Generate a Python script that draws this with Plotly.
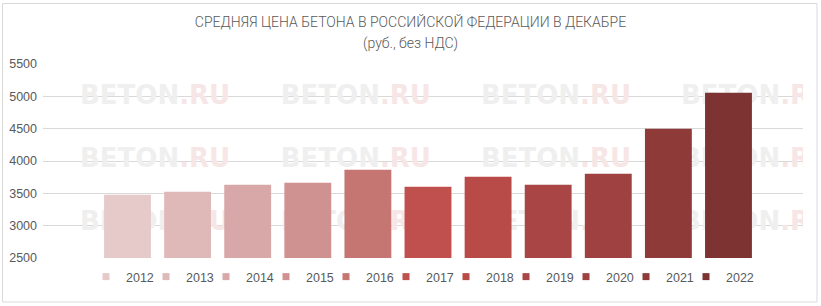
import plotly.graph_objects as go

years = [2012, 2013, 2014, 2015, 2016, 2017, 2018, 2019, 2020, 2021, 2022]
prices = [3480, 3525, 3633, 3664, 3865, 3602, 3756, 3633, 3803, 4498, 5055]
colors = ["#E6CACA", "#DFB8B8", "#D8A7A7", "#D09191", "#C57672", "#C0504D",
          "#B84A48", "#A94645", "#9E4140", "#8E3A39", "#7C3332"]
y_ticks = [2500, 3000, 3500, 4000, 4500, 5000, 5500]

wm_x = [2012.46, 2015.80, 2019.13, 2022.46]
wm_y = [4988, 4015, 3041]

title_line1 = "СРЕДНЯЯ ЦЕНА БЕТОНА В РОССИЙСКОЙ ФЕДЕРАЦИИ В ДЕКАБРЕ"
title_line2 = "(руб., без НДС)"

W, H = 821, 306
L, R, T, B = 43, 18, 64, 48
x_range = [2012 - 1.406, 2022 + 1.24]
y_range = [2500, 5500]
gray = "#595959"
title_font = dict(family="Roboto", size=14, weight=300, color=gray)

fig = go.Figure()

# watermark (on base axes, drawn below bars)
wx, wy = [], []
for yy in wm_y:
    for xx in wm_x:
        wx.append(xx)
        wy.append(yy)
fig.add_trace(go.Scatter(
    x=wx, y=wy, mode="text",
    text=["BETON<span style='color:#f7e6e6'>.RU</span>"] * len(wx),
    textfont=dict(family="DejaVu Sans", size=26, color="#efefef", weight="bold"),
    cliponaxis=True, showlegend=False, hoverinfo="skip",
    xaxis="x", yaxis="y",
))

for yr, val, col in zip(years, prices, colors):
    fig.add_trace(go.Bar(
        x=[yr], y=[val], name=str(yr), marker=dict(color=col, line=dict(width=0)),
        width=0.78, showlegend=False, xaxis="x2", yaxis="y2",
    ))
    fig.add_trace(go.Scatter(
        x=[None], y=[None], mode="markers", name=str(yr),
        marker=dict(symbol="square", size=7, color=col),
        showlegend=True, xaxis="x2", yaxis="y2",
    ))
# invisible spacer entry so the last legend label is not clipped
fig.add_trace(go.Scatter(
    x=[None], y=[None], mode="markers", name=" ",
    marker=dict(symbol="square", size=7, color="rgba(0,0,0,0)"),
    showlegend=True, xaxis="x2", yaxis="y2", hoverinfo="skip",
))

pw, ph = W - L - R, H - T - B

fig.update_layout(
    width=W, height=H,
    margin=dict(l=L, r=R, t=T, b=B, autoexpand=False),
    paper_bgcolor="white", plot_bgcolor="white",
    barmode="overlay",
    title=dict(text=title_line1, x=0.5, xref="container", xanchor="center",
               y=1 - 22 / H, yref="container", yanchor="middle", font=title_font),
    xaxis=dict(range=x_range, showgrid=False, showticklabels=False, zeroline=False,
               showline=False, fixedrange=True),
    yaxis=dict(range=y_range, tickvals=y_ticks, showgrid=True, gridcolor="#d9d9d9",
               gridwidth=1, zeroline=False, showline=False,
               tickfont=dict(family="Liberation Sans", size=12.5, color=gray),
               ticklabelstandoff=5),
    xaxis2=dict(range=x_range, overlaying="x", showgrid=False, showticklabels=False,
                zeroline=False, showline=False),
    yaxis2=dict(range=y_range, overlaying="y", showgrid=False, showticklabels=False,
                zeroline=False, showline=False),
    legend=dict(orientation="h", xref="container", x=86 / W, xanchor="left",
                y=(258 - 277) / ph, yanchor="middle",
                font=dict(family="Liberation Sans", size=12.5, color=gray),
                entrywidth=15, itemwidth=30, tracegroupgap=0, borderwidth=0,
                bgcolor="rgba(0,0,0,0)"),
    showlegend=True,
    annotations=[dict(text=title_line2, xref="paper", yref="paper",
                      x=(W / 2 - L) / pw, y=(258 - 44) / ph,
                      xanchor="center", yanchor="middle", showarrow=False,
                      font=title_font)],
)

fig.add_shape(type="rect", xref="paper", yref="paper",
              x0=(2.5 - L) / pw, x1=(817 - L) / pw,
              y0=(H - T - B - (302 - T)) / ph, y1=(H - T - B - (3.5 - T)) / ph,
              line=dict(color="#d9d9d9", width=1), fillcolor="rgba(0,0,0,0)", layer="below")

fig.write_html("out.html")
